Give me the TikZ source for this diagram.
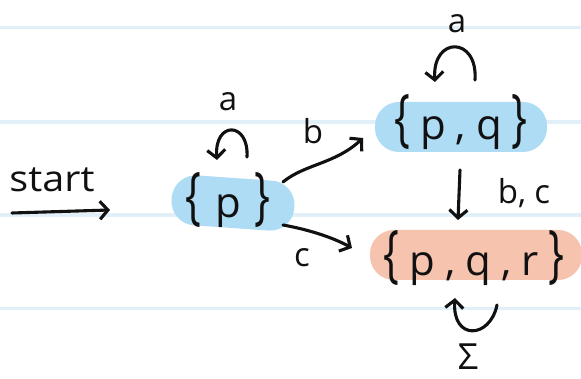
\documentclass[tikz,border=0pt]{standalone}
\usepackage{fontspec}
\setmainfont{Open Sans}
\usepackage{graphicx}
\usetikzlibrary{arrows.meta,calc}
\definecolor{ruleblue}{HTML}{E1EFF9}
\definecolor{blobblue}{HTML}{AEDCF4}
\definecolor{blobred}{HTML}{F6C3AE}
\definecolor{ink}{HTML}{111111}
\newcommand\stfont{\fontsize{42}{50}\selectfont}
\newcommand\lbfont{\fontsize{33}{38}\selectfont}
\newcommand\lbr{\scalebox{1}[1.5]{\{}}
\newcommand\rbr{\scalebox{1}[1.5]{\}}}
\newcommand\gp{\kern10pt}
\begin{document}
\begin{tikzpicture}[x=1pt,y=1pt,
  ruleline/.style={line width=3.5pt, draw=ruleblue},
  blob/.style={rounded corners=24pt, minimum height=50pt, inner sep=0pt, draw=none},
  statetxt/.style={font=\stfont, text=ink, inner sep=0pt},
  lbl/.style={font=\lbfont, text=ink, inner sep=0pt},
  arr/.style={draw=ink, line width=3.1pt, line cap=round, line join=round,
    -{Straight Barb[length=8pt,width=18pt]}}]
\useasboundingbox (0,0) rectangle (581,379);
\fill[white] (0,0) rectangle (581,379);
% ruled paper
\foreach \yy in {351.5,257.2,163.8,70.5} \draw[ruleline] (0,\yy) -- (581,\yy);
% states
\node[blob, fill=blobblue, minimum width=123pt, rotate=-4] (p) at (233,176) {};
\node[blob, fill=blobblue, minimum width=172pt] (pq) at (461,252) {};
\node[blob, fill=blobred, minimum width=212pt] (pqr) at (476,124) {};
\node[statetxt] (pt) at (228,179) {\lbr\kern14pt p\kern14pt\rbr};
\node[statetxt] (pqt) at (461,257) {\lbr\gp p\gp,\gp q\gp\rbr};
\node[statetxt] (pqrt) at (474,120.5) {\lbr\gp p\gp,\gp q\gp,\gp r\gp\rbr};
% start
\coordinate (s0) at (12,166);
\coordinate (s1) at (110,169);
\node[font=\fontsize{36}{40}\selectfont, text=ink, inner sep=0pt] (st) at (52,199) {\scalebox{1.1}[1]{start}};
\draw[arr] (s0) -- (s1);
% transitions
\draw[arr] ($(p)+(50,21)$) .. controls ($(p)+(72,39)$) and ($(p)+(102,39)$) .. ($(pq)+(-98,-11)$);
\draw[arr] ($(p)+(50,-22)$) .. controls ($(p)+(72,-26)$) and ($(p)+(97,-33)$) .. ($(pqr)+(-124,7)$);
\draw[arr] ($(pq)+(-1,-43)$) -- ($(pqr)+(-18,35)$);
% loops
\draw[arr] ($(p)+(14,46)$) .. controls ($(p)+(16,82)$) and ($(p)+(-19,82)$) .. ($(p)+(-16,43)$);
\draw[arr] ($(pq)+(14,47)$) .. controls ($(pq)+(17,91)$) and ($(pq)+(-29,91)$) .. ($(pq)+(-26,45)$);
\draw[arr] ($(pqr)+(21,-50)$) .. controls ($(pqr)+(14,-84)$) and ($(pqr)+(-24,-86)$) .. ($(pqr)+(-21,-43)$);
% labels
\node[lbl] (la1) at (228,277) {a};
\node[lbl] (lb) at (313,248) {b};
\node[lbl] (lc) at (302,121) {c};
\node[lbl] (la2) at (457,355) {a};
\node[lbl] (lbc) at (524,186) {b,\kern8pt c};
\node[font=\fontsize{36}{40}\selectfont, text=ink, inner sep=0pt] (lsig) at (468,22) {Σ};
\end{tikzpicture}
\end{document}
